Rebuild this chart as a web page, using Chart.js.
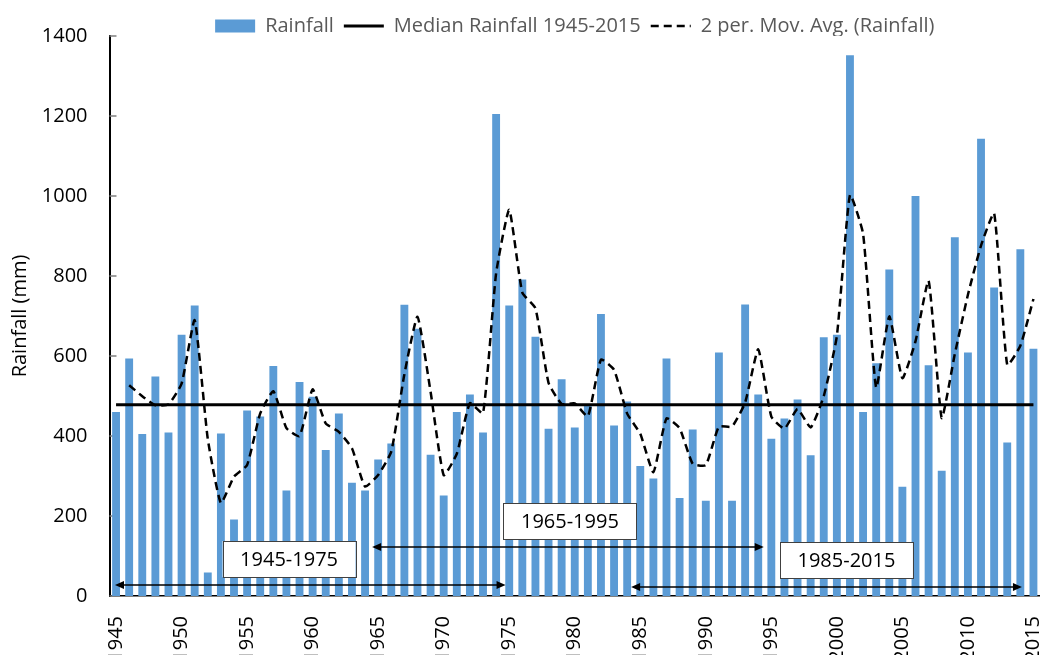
<!DOCTYPE html>
<html>
<head>
<meta charset="utf-8">
<script src="https://cdn.jsdelivr.net/npm/chart.js@4.4.1/dist/chart.umd.min.js"></script>
<style>
html,body{margin:0;padding:0;background:#ffffff;}
#wrap{width:1040px;height:655px;position:relative;}
</style>
</head>
<body>
<div id="wrap"><canvas id="c" width="1040" height="655"></canvas></div>
<script>
// ---------------- DATA ----------------
const years = ['1945','1946','1947','1948','1949','1950','1951','1952','1953','1954',
  '1955','1956','1957','1958','1959','1960','1961','1962','1963','1964',
  '1965','1966','1967','1968','1969','1970','1971','1972','1973','1974',
  '1975','1976','1977','1978','1979','1980','1981','1982','1983','1984',
  '1985','1986','1987','1988','1989','1990','1991','1992','1993','1994',
  '1995','1996','1997','1998','1999','2000','2001','2002','2003','2004',
  '2005','2006','2007','2008','2009','2010','2011','2012','2013','2014','2015'];

const rainfall = [460,594,405,549,409,653,726,59,406,191,
  464,449,575,264,535,498,365,456,283,264,
  341,381,728,668,353,251,460,504,409,1205,
  726,791,648,418,542,421,477,705,426,486,
  325,294,594,245,416,238,609,238,729,504,
  393,444,491,352,647,653,1352,460,582,816,
  273,1000,577,313,897,609,1143,771,384,867,618];

const medianRainfall = 478;

const movingAvg = [null,527,499.5,477,479,531,689.5,392.5,232.5,298.5,
  327.5,456.5,512,419.5,399.5,516.5,431.5,410.5,369.5,273.5,
  302.5,361,554.5,698,510.5,302,355.5,482,456.5,807,
  965.5,758.5,719.5,533,480,481.5,449,591,565.5,456,
  405.5,309.5,444,419.5,330.5,327,423.5,423.5,483.5,616.5,
  448.5,418.5,467.5,421.5,499.5,650,1002.5,906,521,699,
  544.5,636.5,788.5,445,605,753,876,957,577.5,625.5,742.5];

const yTickValues = [0,200,400,600,800,1000,1200,1400];

const seriesNames = ['Rainfall','Median Rainfall 1945-2015','2 per. Mov. Avg. (Rainfall)'];
const yAxisTitle = 'Rainfall (mm)';

const periodLabels = ['1945-1975','1965-1995','1985-2015'];

// ---------------- ANNOTATION LAYOUT (positions in axis units) ----------------
const periodLayout = [
  {arrowFrom:-0.08, arrowTo:29.72, arrowY:27.5, boxX:13.2, boxY:92.5},
  {arrowFrom:19.54, arrowTo:49.42, arrowY:122.5, boxX:34.63, boxY:187.5},
  {arrowFrom:39.3, arrowTo:69.12, arrowY:22.5, boxX:55.73, boxY:90}
];

const FONT = "'Open Sans', 'DejaVu Sans', sans-serif";
Chart.defaults.font.family = FONT;

const legendFitPatch = {
  id: 'legendFitPatch',
  beforeLayout(chart) {
    const lg = chart.legend;
    if (lg && !lg._fitPatched) {
      const orig = lg.fit;
      lg.fit = function() { orig.call(this); this.height = 30; };
      lg._fitPatched = true;
    }
  }
};

const innerTicks = {
  id: 'innerTicks',
  beforeDatasetsDraw(chart) {
    const ys = chart.scales.y;
    const ctx = chart.ctx;
    const left = chart.chartArea.left;
    ctx.save();
    ctx.strokeStyle = '#7f7f7f';
    ctx.lineWidth = 1.5;
    ctx.beginPath();
    yTickValues.forEach(v => {
      const py = Math.round(ys.getPixelForValue(v));
      ctx.moveTo(left, py);
      ctx.lineTo(left + 7, py);
    });
    ctx.stroke();
    ctx.restore();
  }
};

function arrowHead(ctx, x, y, dir) {
  ctx.beginPath();
  ctx.moveTo(x, y);
  ctx.lineTo(x - dir * 9, y - 4);
  ctx.lineTo(x - dir * 9, y + 4);
  ctx.closePath();
  ctx.fill();
}

const periodAnnotations = {
  id: 'periodAnnotations',
  afterDatasetsDraw(chart) {
    const xs = chart.scales.x, ys = chart.scales.y, ctx = chart.ctx;
    ctx.save();
    periodLayout.forEach((p, i) => {
      const x1 = xs.getPixelForValue(p.arrowFrom);
      const x2 = xs.getPixelForValue(p.arrowTo);
      const ay = ys.getPixelForValue(p.arrowY);
      ctx.strokeStyle = '#000';
      ctx.fillStyle = '#000';
      ctx.lineWidth = 1.5;
      ctx.beginPath();
      ctx.moveTo(x1 + 6, ay);
      ctx.lineTo(x2 - 6, ay);
      ctx.stroke();
      arrowHead(ctx, x1, ay, -1);
      arrowHead(ctx, x2, ay, 1);

      const bx = xs.getPixelForValue(p.boxX);
      const by = ys.getPixelForValue(p.boxY);
      const w = 133, h = 36;
      ctx.fillStyle = '#ffffff';
      ctx.fillRect(bx - w / 2, by - h / 2, w, h);
      ctx.strokeStyle = '#404040';
      ctx.lineWidth = 1;
      ctx.strokeRect(Math.round(bx - w / 2) + 0.5, Math.round(by - h / 2) + 0.5, w, h);
      ctx.fillStyle = '#000';
      ctx.font = "20px " + FONT;
      ctx.textAlign = 'center';
      ctx.textBaseline = 'middle';
      ctx.fillText(periodLabels[i], bx, by + 1);
    });
    ctx.restore();
  }
};

new Chart(document.getElementById('c'), {
  data: {
    labels: years,
    datasets: [
      {
        type: 'bar',
        label: seriesNames[0],
        data: rainfall,
        backgroundColor: '#5B9BD5',
        borderWidth: 0,
        barPercentage: 0.6,
        categoryPercentage: 1.0,
        order: 3
      },
      {
        type: 'line',
        label: seriesNames[1],
        data: years.map(() => medianRainfall),
        borderColor: '#000000',
        backgroundColor: '#000000',
        borderWidth: 3,
        pointRadius: 0,
        fill: false,
        order: 2
      },
      {
        type: 'line',
        label: seriesNames[2],
        data: movingAvg,
        borderColor: '#000000',
        backgroundColor: '#000000',
        borderWidth: 2.5,
        borderDash: [8, 5],
        pointRadius: 0,
        tension: 0.15,
        fill: false,
        order: 1
      }
    ]
  },
  options: {
    responsive: false,
    animation: false,
    devicePixelRatio: 1,
    layout: { padding: { top: 6, right: -3, left: 0, bottom: 0 } },
    plugins: {
      tooltip: { enabled: false },
      legend: {
        position: 'top',
        fullSize: false,
        labels: {
          usePointStyle: true,
          pointStyleWidth: 40,
          boxWidth: 40,
          boxHeight: 13,
          padding: 10,
          color: '#595959',
          font: { size: 20, family: FONT },
          generateLabels(chart) {
            const items = Chart.defaults.plugins.legend.labels.generateLabels(chart);
            items.sort((a, b) => a.datasetIndex - b.datasetIndex);
            items.forEach(it => {
              if (it.datasetIndex === 0) {
                it.pointStyle = 'rect';
                it.fillStyle = '#5B9BD5';
                it.strokeStyle = '#5B9BD5';
                it.lineWidth = 0;
              } else {
                it.pointStyle = 'line';
                it.strokeStyle = '#000';
                it.lineWidth = it.datasetIndex === 1 ? 3 : 2.5;
                it.lineDash = it.datasetIndex === 2 ? [8, 5] : [];
              }
            });
            return items;
          }
        }
      }
    },
    scales: {
      x: {
        type: 'category',
        offset: true,
        grid: { display: false, drawTicks: false },
        border: { display: true, color: '#000', width: 1.5 },
        ticks: {
          autoSkip: false,
          maxRotation: 90,
          minRotation: 90,
          padding: 20,
          color: '#000',
          font: { size: 20, family: FONT },
          callback: (v, i) => (Number(years[i]) % 5 === 0 ? years[i] : '')
        },
        afterFit: (s) => { s.height = 59; s.paddingLeft = 0; s.paddingRight = 0; }
      },
      y: {
        min: 0,
        max: 1400,
        grid: { display: false, drawTicks: false },
        border: { display: true, color: '#000', width: 2 },
        afterBuildTicks: (s) => { s.ticks = yTickValues.map(v => ({ value: v })); },
        ticks: {
          padding: 22,
          color: '#000',
          font: { size: 20, family: FONT },
          callback: (v) => String(v)
        },
        title: {
          display: true,
          text: yAxisTitle,
          color: '#000',
          font: { size: 20, family: FONT },
          padding: { top: 8, bottom: 0 }
        },
        afterFit: (s) => { s.width = 109.5; s.paddingTop = 0; s.paddingBottom = 0; }
      }
    }
  },
  plugins: [legendFitPatch, innerTicks, periodAnnotations]
});
</script>
</body>
</html>
